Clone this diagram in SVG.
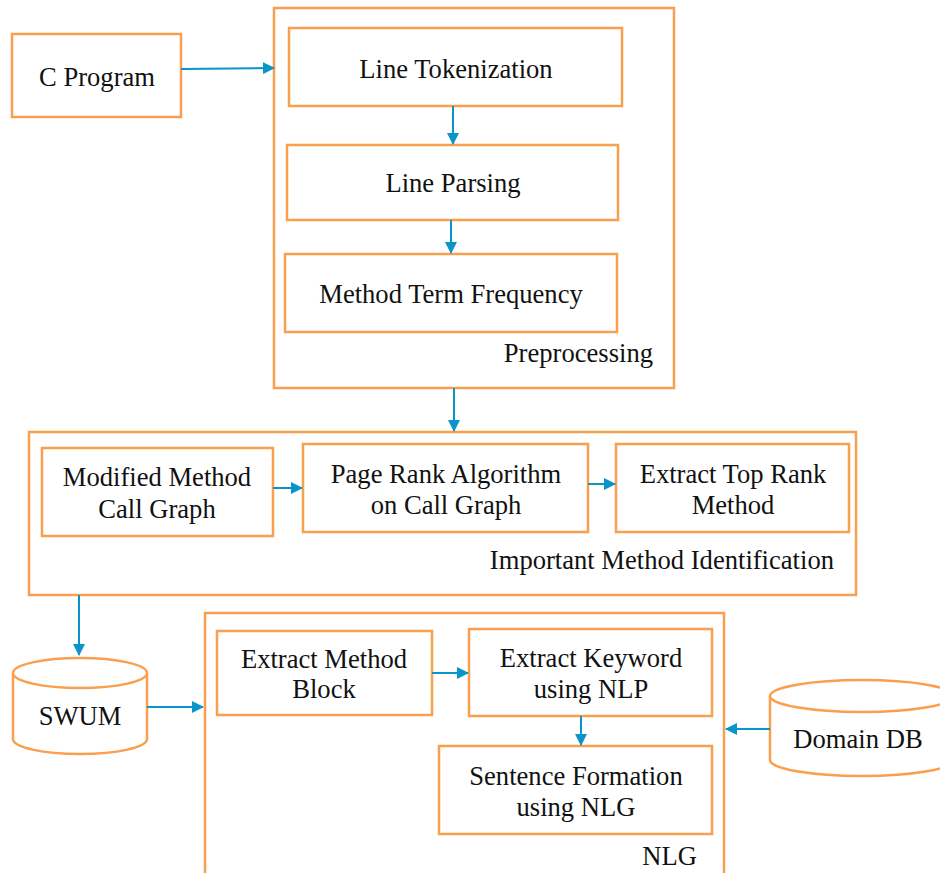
<svg xmlns="http://www.w3.org/2000/svg" width="940" height="873" viewBox="0 0 940 873">
<style>
.box{fill:#fff;stroke:#F9A04E;stroke-width:2.5}
.grp{fill:none;stroke:#F9A04E;stroke-width:2.5}
.t{font-family:"Liberation Serif","Times New Roman",serif;font-size:26.6px;fill:#111;text-anchor:middle}
.l{font-family:"Liberation Serif","Times New Roman",serif;font-size:26.6px;fill:#111;text-anchor:end}
.c{stroke:#0A94C9;stroke-width:2;fill:none;marker-end:url(#a)}
</style>
<defs>
<marker id="a" markerWidth="12" markerHeight="12" refX="11" refY="6" orient="auto" markerUnits="userSpaceOnUse">
<path d="M0,0 L12,6 L0,12 z" fill="#0A94C9"/>
</marker>
</defs>
<rect width="940" height="873" fill="#fff"/>
<g id="preprocessing"><rect class="grp" x="274" y="8" width="400" height="380"/><text class="l" x="653" y="362">Preprocessing</text></g>
<g id="important"><rect class="grp" x="29" y="432" width="827" height="163"/><text class="l" x="834" y="569">Important Method Identification</text></g>
<g id="nlg"><rect class="grp" x="205" y="613" width="519" height="280"/><text class="l" x="697" y="865">NLG</text></g>
<g id="cprogram"><rect class="box" x="12" y="34" width="169" height="83"/><text class="t" x="97" y="86">C Program</text></g>
<g id="linetok"><rect class="box" x="289" y="28" width="333" height="78"/><text class="t" x="456" y="78">Line Tokenization</text></g>
<g id="lineparse"><rect class="box" x="287" y="145" width="331" height="75"/><text class="t" x="453" y="192">Line Parsing</text></g>
<g id="mtf"><rect class="box" x="285" y="254" width="332" height="78"/><text class="t" x="451" y="303">Method Term Frequency</text></g>
<g id="mmcg"><rect class="box" x="42" y="448" width="231" height="88"/><text class="t" x="157" y="486">Modified Method</text><text class="t" x="157" y="518">Call Graph</text></g>
<g id="pagerank"><rect class="box" x="303" y="444" width="285" height="88"/><text class="t" x="446" y="483">Page Rank Algorithm</text><text class="t" x="446" y="514">on Call Graph</text></g>
<g id="toprank"><rect class="box" x="616" y="444" width="233" height="88"/><text class="t" x="733" y="483">Extract Top Rank</text><text class="t" x="733" y="514">Method</text></g>
<g id="swum"><path class="box" d="M13,673 L13,739 A67,15 0 0 0 147,739 L147,673"/><ellipse class="box" cx="80" cy="673" rx="67" ry="15"/><text class="t" x="80" y="725">SWUM</text></g>
<g id="domaindb"><path class="box" d="M770,696 L770,760 A92,16 0 0 0 954,760 L954,696"/><ellipse class="box" cx="862" cy="696" rx="92" ry="16"/><text class="t" x="858" y="748">Domain DB</text></g>
<g id="emb"><rect class="box" x="217" y="631" width="215" height="84"/><text class="t" x="324" y="668">Extract Method</text><text class="t" x="324" y="698">Block</text></g>
<g id="ek"><rect class="box" x="469" y="629" width="243" height="87"/><text class="t" x="591" y="667">Extract Keyword</text><text class="t" x="591" y="698">using NLP</text></g>
<g id="sf"><rect class="box" x="439" y="746" width="273" height="88"/><text class="t" x="576" y="785">Sentence Formation</text><text class="t" x="576" y="816">using NLG</text></g>
<g id="connectors">
<path class="c" d="M181,69 L274,68"/>
<path class="c" d="M453,106 L453,144"/>
<path class="c" d="M451,220 L451,253"/>
<path class="c" d="M454,388 L454,431"/>
<path class="c" d="M273,488 L302,488"/>
<path class="c" d="M588,484 L615,484"/>
<path class="c" d="M79,595 L79,655"/>
<path class="c" d="M147,707 L203,707"/>
<path class="c" d="M432,673 L468,673"/>
<path class="c" d="M581,716 L581,745"/>
<path class="c" d="M770,729 L726,729"/>
</g>
</svg>
